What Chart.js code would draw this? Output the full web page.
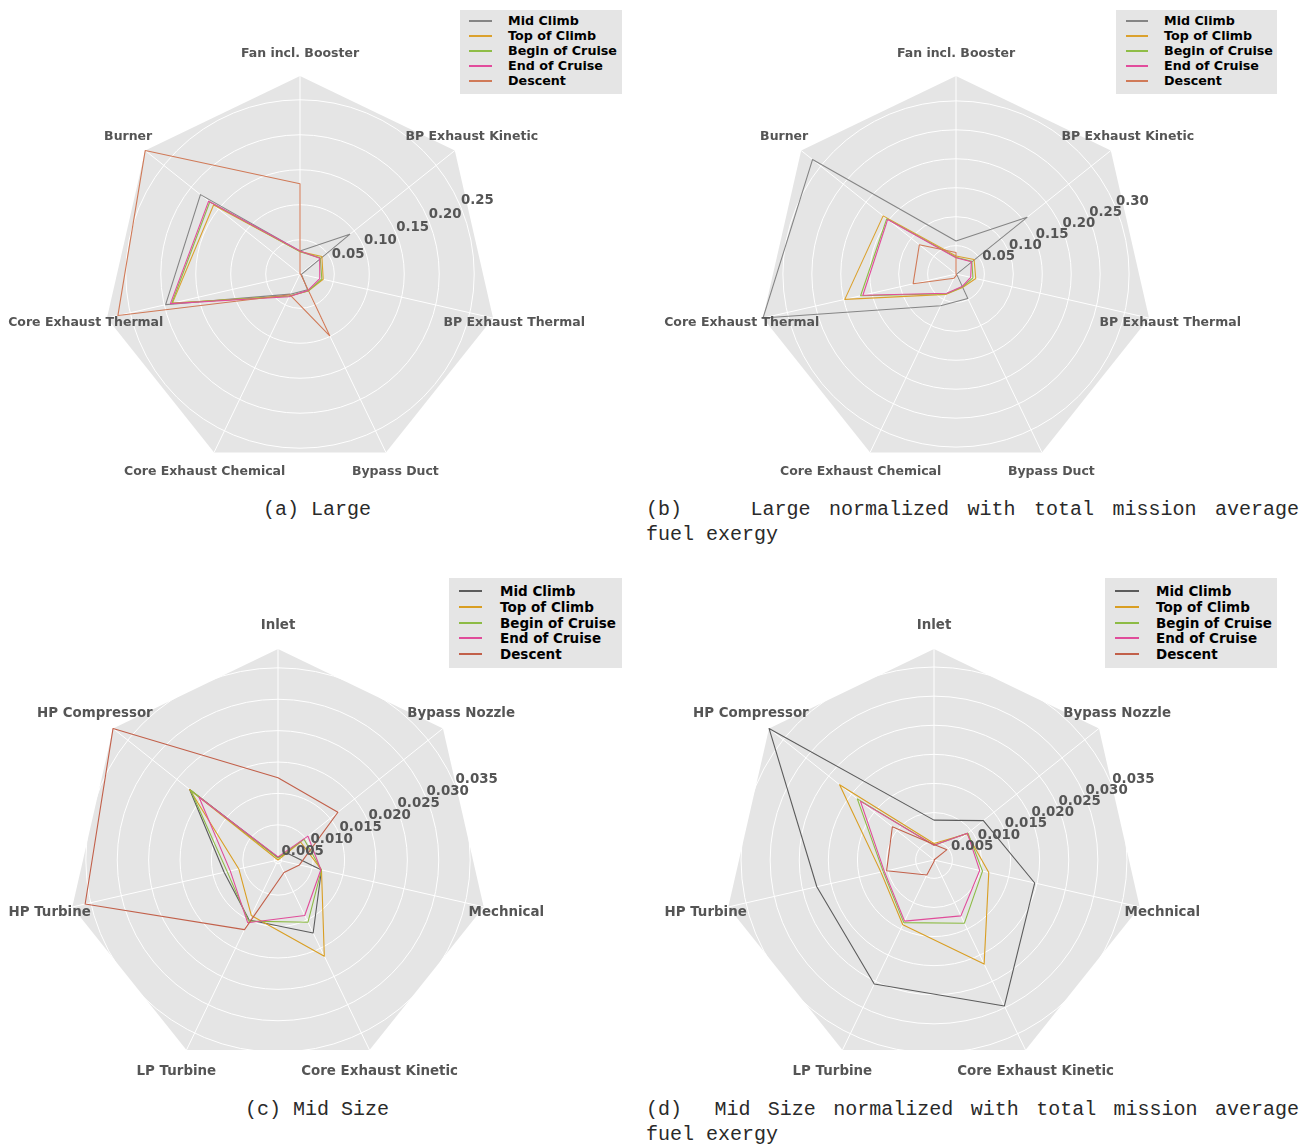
<!DOCTYPE html>
<html>
<head>
<meta charset="utf-8">
<script src="https://cdn.jsdelivr.net/npm/chart.js@4.4.1/dist/chart.umd.min.js"></script>
<style>
  html, body { margin: 0; padding: 0; background: #ffffff; }
  body { position: relative; width: 1302px; height: 1144px; overflow: hidden; font-family: "DejaVu Sans", sans-serif; }
  canvas { position: absolute; }
  .legend { position: absolute; background: #e5e5e5; }
  .legend .row { position: absolute; left: 0; height: 16px; white-space: nowrap; }
  .legend .swatch { position: absolute; height: 2px; }
  .legend .name { position: absolute; top: 0; line-height: 16px; font-weight: bold; color: #000; }
  .cap { position: absolute; font-family: "Liberation Mono", "Courier New", monospace; font-size: 20px; line-height: 20px; color: #2a2a2a; white-space: pre; }
  .cap.just { display: flex; justify-content: space-between; }
</style>
</head>
<body>
<div class="cap" style="left:263px; top:500px;">(a) Large</div>
<div class="cap just" style="left:646px; top:500px; width:653px;"><span style="margin-right:50px">(b)</span><span>Large</span><span>normalized</span><span>with</span><span>total</span><span>mission</span><span>average</span></div>
<div class="cap" style="left:646px; top:525px;">fuel exergy</div>
<div class="cap" style="left:245px; top:1100px;">(c) Mid Size</div>
<div class="cap just" style="left:646px; top:1100px; width:653px;"><span style="margin-right:15px">(d)</span><span>Mid</span><span>Size</span><span>normalized</span><span>with</span><span>total</span><span>mission</span><span>average</span></div>
<div class="cap" style="left:646px; top:1125px;">fuel exergy</div>

<script>
// Flight phases (one line per phase in every radar)
const phases = ['Mid Climb', 'Top of Climb', 'Begin of Cruise', 'End of Cruise', 'Descent'];

// Large engine: exergy destruction / loss per component
const axesLarge = ['Fan incl. Booster', 'BP Exhaust Kinetic', 'BP Exhaust Thermal', 'Bypass Duct',
                   'Core Exhaust Chemical', 'Core Exhaust Thermal', 'Burner'];
const largeMidClimb   = [0.034, 0.092, 0.003, 0.026, 0.033, 0.198, 0.183];
const largeTopClimb   = [0.033, 0.041, 0.035, 0.028, 0.036, 0.188, 0.159];
const largeBeginCruise= [0.033, 0.038, 0.033, 0.028, 0.036, 0.189, 0.166];
const largeEndCruise  = [0.034, 0.037, 0.030, 0.027, 0.037, 0.191, 0.168];
const largeDescent    = [0.130, 0.001, 0.002, 0.099, 0.034, 0.268, 0.284];
const ticksLarge = ['0.05', '0.10', '0.15', '0.20', '0.25'];

// Large engine, normalized with total mission average fuel exergy
const normLargeMidClimb   = [0.058, 0.158, 0.002, 0.048, 0.062, 0.343, 0.318];
const normLargeTopClimb   = [0.032, 0.041, 0.036, 0.027, 0.040, 0.198, 0.162];
const normLargeBeginCruise= [0.030, 0.036, 0.031, 0.026, 0.039, 0.170, 0.154];
const normLargeEndCruise  = [0.029, 0.035, 0.027, 0.025, 0.038, 0.166, 0.152];
const normLargeDescent    = [0.038, 0.001, 0.001, 0.003, 0.009, 0.077, 0.082];
const ticksLargeNorm = ['0.05', '0.10', '0.15', '0.20', '0.25', '0.30'];

// Mid size engine
const axesMid = ['Inlet', 'Bypass Nozzle', 'Mechnical', 'Core Exhaust Kinetic',
                 'LP Turbine', 'HP Turbine', 'HP Compressor'];
const midMidClimb   = [0.0048, 0.0062, 0.0115, 0.0173, 0.0150, 0.0132, 0.0224];
const midTopClimb   = [0.0044, 0.0090, 0.0115, 0.0214, 0.0142, 0.0108, 0.0224];
const midBeginCruise= [0.0047, 0.0097, 0.0115, 0.0154, 0.0152, 0.0127, 0.0222];
const midEndCruise  = [0.0049, 0.0105, 0.0114, 0.0142, 0.0155, 0.0122, 0.0205];
const midDescent    = [0.0175, 0.0166, 0.0079, 0.0066, 0.0167, 0.0359, 0.0380];
const ticksMid = ['0.005', '0.010', '0.015', '0.020', '0.025', '0.030', '0.035'];

// Mid size engine, normalized with total mission average fuel exergy
const normMidMidClimb   = [0.0087, 0.0127, 0.0196, 0.0297, 0.0255, 0.0225, 0.0381];
const normMidTopClimb   = [0.0047, 0.0091, 0.0115, 0.0217, 0.0142, 0.0112, 0.0226];
const normMidBeginCruise= [0.0044, 0.0093, 0.0104, 0.0139, 0.0138, 0.0108, 0.0187];
const normMidEndCruise  = [0.0044, 0.0092, 0.0099, 0.0125, 0.0135, 0.0106, 0.0180];
const normMidDescent    = [0.0045, 0.0047, 0.00185, 0.0020, 0.0047, 0.0102, 0.0110];

// ---- styling -------------------------------------------------------------
const colorsLarge = ['#858585', '#dba12d', '#8fbd47', '#e24c9c', '#d07a58'];
const colorsMid   = ['#5c5c5c', '#d99e22', '#8dbb45', '#e04c9a', '#c2604a'];

const panels = [
  { x: 0,   y: 0,   w: 650, h: 545, pad: { left: 102, top: 76, right: 152, bottom: 73 },
    labels: axesLarge, ticks: ticksLarge, colors: colorsLarge, font: 12.5, tickFont: 13.3,
    series: [largeMidClimb, largeTopClimb, largeBeginCruise, largeEndCruise, largeDescent],
    legend: { x: 460, y: 10, w: 162, h: 84, step: 15, first: 3, sx: 9, sw: 23, tx: 48, font: 12.7 } },
  { x: 651, y: 0,   w: 651, h: 545, pad: { left: 107, top: 76, right: 148, bottom: 73 },
    labels: axesLarge, ticks: ticksLargeNorm, colors: colorsLarge, font: 12.5, tickFont: 13.3,
    series: [normLargeMidClimb, normLargeTopClimb, normLargeBeginCruise, normLargeEndCruise, normLargeDescent],
    legend: { x: 1116, y: 10, w: 161, h: 84, step: 15, first: 3, sx: 10, sw: 22, tx: 48, font: 12.7 } },
  { x: 0,   y: 565, w: 650, h: 579, pad: { left: 67, top: 84, right: 161, bottom: 73 },
    labels: axesMid, ticks: ticksMid, colors: colorsMid, font: 13.4, tickFont: 13.4,
    series: [midMidClimb, midTopClimb, midBeginCruise, midEndCruise, midDescent],
    legend: { x: 449, y: 578, w: 173, h: 90, step: 15.8, first: 5, sx: 10, sw: 23, tx: 51, font: 13.5 } },
  { x: 651, y: 565, w: 651, h: 579, pad: { left: 72, top: 84, right: 157, bottom: 73 },
    labels: axesMid, ticks: ticksMid, colors: colorsMid, font: 13.4, tickFont: 13.4,
    series: [normMidMidClimb, normMidTopClimb, normMidBeginCruise, normMidEndCruise, normMidDescent],
    legend: { x: 1105, y: 578, w: 172, h: 90, step: 15.8, first: 5, sx: 10, sw: 24, tx: 51, font: 13.5 } }
];

// Heptagon background, axis names and radial tick labels around the radial scale
function radarDecor(p) {
  return {
    id: 'radarDecor',
    beforeDraw(chart) {
      const s = chart.scales.r, ctx = chart.ctx;
      ctx.save();
      ctx.beginPath();
      for (let i = 0; i < p.labels.length; i++) {
        const q = s.getPointPosition(i, s.drawingArea);
        if (i === 0) ctx.moveTo(q.x, q.y); else ctx.lineTo(q.x, q.y);
      }
      ctx.closePath();
      ctx.fillStyle = '#e5e5e5';
      ctx.fill();
      ctx.restore();
    },
    afterDraw(chart) {
      const s = chart.scales.r, ctx = chart.ctx;
      ctx.save();
      ctx.fillStyle = '#555555';
      ctx.font = 'bold ' + p.font + 'px "DejaVu Sans"';
      ctx.textAlign = 'center';
      ctx.textBaseline = 'middle';
      p.labels.forEach((t, i) => {
        const q = s.getPointPosition(i, s.drawingArea * 1.11);
        ctx.fillText(t, q.x, q.y);
      });
      ctx.font = 'bold ' + p.tickFont + 'px "DejaVu Sans"';
      ctx.textAlign = 'left';
      ctx.textBaseline = 'bottom';
      p.ticks.forEach(t => {
        const q = s.getPointPosition(0, s.getDistanceFromCenterForValue(parseFloat(t)), Math.PI * 3 / 8);
        ctx.fillText(t, q.x, q.y);
      });
      ctx.restore();
    }
  };
}

function buildPanel(p) {
  const cv = document.createElement('canvas');
  cv.width = p.w; cv.height = p.h;
  cv.style.left = p.x + 'px'; cv.style.top = p.y + 'px';
  document.body.appendChild(cv);

  const all = p.series.flat();
  const lo = Math.min(...all), hi = Math.max(...all);
  const tickVals = p.ticks.map(parseFloat);

  const chart = new Chart(cv, {
    type: 'radar',
    data: {
      labels: p.labels,
      datasets: phases.map((name, i) => ({
        label: name,
        data: p.series[i],
        borderColor: p.colors[i],
        backgroundColor: 'rgba(0,0,0,0)',
        borderWidth: 1.1,
        borderJoinStyle: 'round',
        fill: false,
        tension: 0,
        pointRadius: 0,
        pointHoverRadius: 0,
        order: phases.length - 1 - i
      }))
    },
    options: {
      responsive: false,
      animation: false,
      events: [],
      layout: { padding: p.pad },
      plugins: { legend: { display: false }, tooltip: { enabled: false } },
      scales: {
        r: {
          min: lo,
          max: hi,
          startAngle: 0,
          beginAtZero: false,
          grid: { circular: true, color: '#ffffff', lineWidth: 1 },
          angleLines: { color: '#ffffff', lineWidth: 1 },
          pointLabels: { display: false },
          ticks: { display: false },
          afterBuildTicks: s => { s.ticks = [lo, ...tickVals].map(v => ({ value: v })); }
        }
      }
    },
    plugins: [radarDecor(p)]
  });

  // legend box
  const L = p.legend;
  const box = document.createElement('div');
  box.className = 'legend';
  Object.assign(box.style, { left: L.x + 'px', top: L.y + 'px', width: L.w + 'px', height: L.h + 'px' });
  chart.data.datasets.forEach((ds, i) => {
    const row = document.createElement('div');
    row.className = 'row';
    row.style.top = Math.round(L.first + i * L.step) + 'px';
    row.style.width = L.w + 'px';
    const sw = document.createElement('div');
    sw.className = 'swatch';
    Object.assign(sw.style, { left: L.sx + 'px', width: L.sw + 'px', top: '7px', background: ds.borderColor });
    const nm = document.createElement('span');
    nm.className = 'name';
    nm.style.left = L.tx + 'px';
    nm.style.fontSize = L.font + 'px';
    nm.textContent = ds.label;
    row.appendChild(sw); row.appendChild(nm);
    box.appendChild(row);
  });
  document.body.appendChild(box);
}

panels.forEach(buildPanel);
</script>
</body>
</html>
